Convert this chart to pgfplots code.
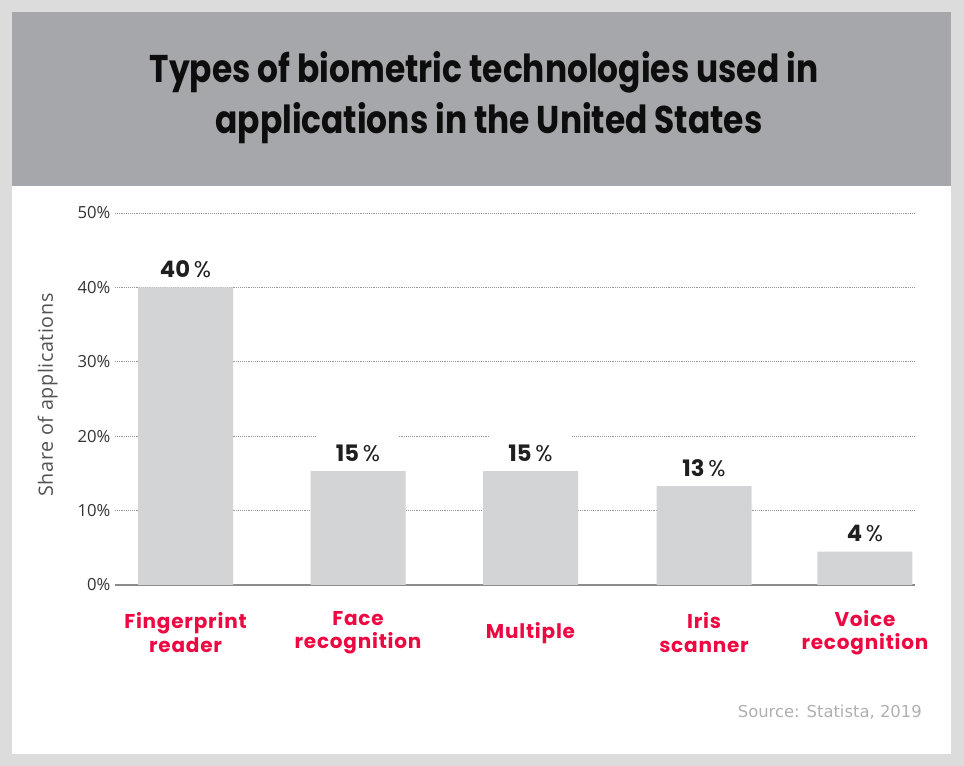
\documentclass[border=0pt]{standalone}
\usepackage{fontspec}
\usepackage{pgfplots}
\pgfplotsset{compat=1.18}
\usepackage{pgfplotstable}
\setmainfont{Open Sans}
\newfontfamily\ylabfont[LetterSpace=3]{Open Sans}
\newfontfamily\titlefont[FakeStretch=0.85]{Poppins}
\newfontfamily\catfont[LetterSpace=4]{Poppins}
\newfontfamily\valfont{Poppins}
\newfontfamily\srcfont{DejaVu Sans}
\definecolor{outerbg}{RGB}{220,220,220}
\definecolor{band}{RGB}{166,167,170}
\definecolor{barc}{RGB}{211,212,214}
\definecolor{catred}{RGB}{238,8,66}
\definecolor{tickc}{RGB}{51,51,51}
\definecolor{gridc}{RGB}{150,150,150}
\definecolor{basec}{RGB}{140,140,140}
\definecolor{srcc}{RGB}{176,176,176}

\pgfplotstableread{
x y lab
0 40 40
1 15.3 15
2 15.3 15
3.006 13.3 13
3.939 4.5 4
}\biodata

\begin{document}
\begin{tikzpicture}
\begin{scope}[x=0.75pt,y=0.75pt]
\fill[outerbg] (0,0) rectangle (964,766);
\fill[white] (12,12) rectangle (951,754);
\fill[band] (12,580) rectangle (951,754);
\node[anchor=base, font=\titlefont\bfseries\fontsize{29}{34}\selectfont, text=black!95] at (484,683) {Types of biometric technologies used in};
\node[anchor=base, font=\titlefont\bfseries\fontsize{29}{34}\selectfont, text=black!95] at (489,632) {applications in the United States};
\node[anchor=base east, inner sep=0pt, font=\srcfont\fontsize{12.3}{14}\selectfont, text=srcc] at (922,48) {Source: Statista, 2019};
\end{scope}
\begin{axis}[
  at={(86.25pt,135.75pt)}, anchor=south west,
  width=600pt, height=279pt, scale only axis,
  xmin=-0.4087, xmax=4.229, ymin=0, ymax=50,
  axis line style={draw=none},
  /pgf/number format/assume math mode=true,
  ytick={10,20,30,40,50},
  yticklabel={\pgfmathprintnumber{\tick}\%},
  extra y ticks={0}, extra y tick labels={0\%},
  extra y tick style={grid style={solid, draw=basec, line width=1.1pt}},
  ymajorgrids, grid style={densely dotted, draw=gridc, line width=0.6pt},
  major tick length=0pt,
  yticklabel style={font=\fontsize{12.5}{14}\selectfont, text=tickc},
  xtick={0,1,2,3.006,3.939},
  xticklabels={Fingerprint\\reader, Face\\recognition, Multiple, Iris\\scanner, Voice\\recognition},
  xticklabel style={font=\catfont\bfseries\fontsize{15}{17.5}\selectfont, text=catred, align=center, anchor=center, yshift=-35.8pt},
  ylabel={Share of applications},
  ylabel style={font=\ylabfont\fontsize{14.8}{16}\selectfont, text=tickc!85, at={(axis description cs:0,0.5)}, anchor=center, yshift=50.5pt, xshift=3pt},
  clip=false,
  point meta=explicit symbolic,
  nodes near coords={\textbf{\pgfplotspointmeta}\,\%},
  nodes near coords style={anchor=south, fill=white, minimum width=61.5pt, minimum height=27pt, inner sep=0pt, font=\valfont\fontsize{17}{19}\selectfont, text=black!88},
]
\addplot[ybar, bar width=71.25pt, fill=barc, draw=none] table[x=x,y=y,meta=lab]{\biodata};
\end{axis}
\end{tikzpicture}
\end{document}
